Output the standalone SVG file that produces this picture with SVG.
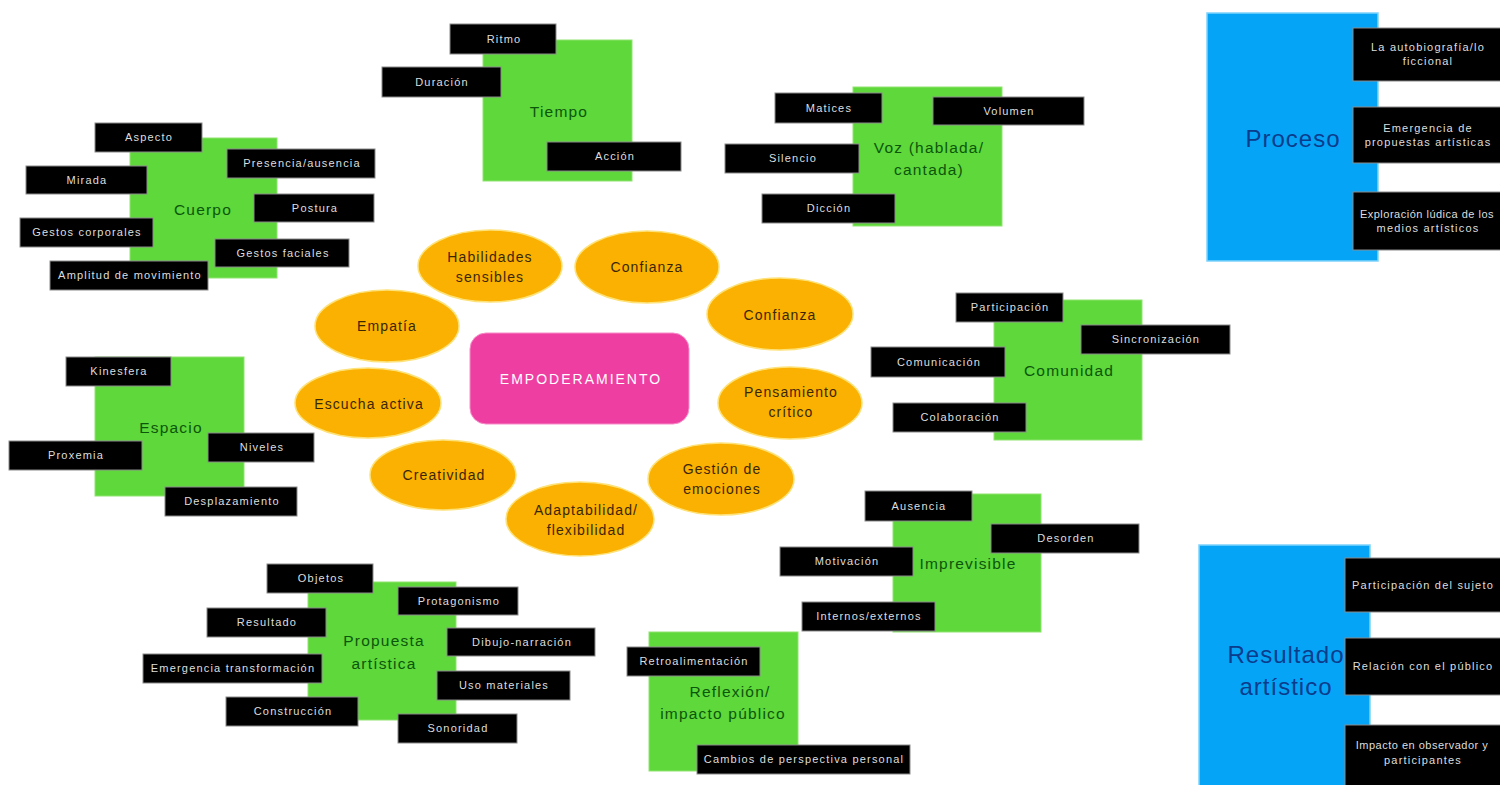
<svg xmlns="http://www.w3.org/2000/svg" width="1500" height="785" viewBox="0 0 1500 785">
<style>
.bg{fill:#ffffff}
.sq{fill:#5ed83a;stroke:#8fe46e;stroke-width:1}
.sqt{font-family:"Liberation Sans",Arial,sans-serif;font-size:15.5px;letter-spacing:1.2px;fill:#0c560c;text-anchor:middle}
.lb{fill:#000000;stroke:#8a8a8a;stroke-width:1}
.lbt{font-family:"Liberation Sans",Arial,sans-serif;font-size:11px;letter-spacing:1.2px;fill:#dedede;text-anchor:middle}
.tight{letter-spacing:0.5px}
.el{fill:#fbb102;stroke:#fde27a;stroke-width:1.5}
.elt{font-family:"Liberation Sans",Arial,sans-serif;font-size:14px;letter-spacing:1.1px;fill:#3a2600;text-anchor:middle}
.bl{fill:#06a4f7;stroke:#7fd3fb;stroke-width:1.5}
.blt{font-family:"Liberation Sans",Arial,sans-serif;font-size:24px;letter-spacing:1px;fill:#0a3c8c;text-anchor:middle}
.ct{fill:#ee3ea2;stroke:#f78cc8;stroke-width:1}
.ctt{font-family:"Liberation Sans",Arial,sans-serif;font-size:14px;letter-spacing:2px;fill:#ffffff;text-anchor:middle}
</style>
<rect class="bg" x="0" y="0" width="1500" height="785"/>
<g id="connectors"></g>

<g id="empoderamiento">
<rect class="ct" x="470" y="333" width="219" height="91" rx="16"/>
<text class="ctt" x="581" y="384">EMPODERAMIENTO</text>
</g>

<g id="habilidades"><ellipse class="el" cx="490" cy="266" rx="72" ry="36"/><text class="elt" x="490" y="262">Habilidades</text><text class="elt" x="490" y="282">sensibles</text></g>
<g id="confianza1"><ellipse class="el" cx="647" cy="267" rx="72" ry="36"/><text class="elt" x="647" y="272">Confianza</text></g>
<g id="confianza2"><ellipse class="el" cx="780" cy="314" rx="73" ry="36"/><text class="elt" x="780" y="320">Confianza</text></g>
<g id="empatia"><ellipse class="el" cx="387" cy="326" rx="72" ry="36"/><text class="elt" x="387" y="331">Empatía</text></g>
<g id="escucha"><ellipse class="el" cx="368" cy="403" rx="73" ry="35"/><text class="elt" x="369" y="409">Escucha activa</text></g>
<g id="creatividad"><ellipse class="el" cx="443" cy="475" rx="73" ry="35"/><text class="elt" x="444" y="480">Creatividad</text></g>
<g id="adaptabilidad"><ellipse class="el" cx="580" cy="519" rx="74" ry="37"/><text class="elt" x="586" y="515">Adaptabilidad/</text><text class="elt" x="586" y="535">flexibilidad</text></g>
<g id="pensamiento"><ellipse class="el" cx="790" cy="403" rx="72" ry="36"/><text class="elt" x="791" y="397">Pensamiento</text><text class="elt" x="791" y="417">crítico</text></g>
<g id="gestion"><ellipse class="el" cx="721" cy="479" rx="73" ry="36"/><text class="elt" x="722" y="474">Gestión de</text><text class="elt" x="722" y="494">emociones</text></g>

<g id="cuerpo">
<rect class="sq" x="130" y="138" width="147" height="140"/>
<text class="sqt" x="203" y="215">Cuerpo</text>
<rect class="lb" x="95" y="123" width="107" height="29"/><text class="lbt" x="149" y="141">Aspecto</text>
<rect class="lb" x="227" y="149" width="148" height="29"/><text class="lbt" x="302" y="167">Presencia/ausencia</text>
<rect class="lb" x="26" y="166" width="121" height="28"/><text class="lbt" x="87" y="184">Mirada</text>
<rect class="lb" x="254" y="194" width="120" height="28"/><text class="lbt" x="315" y="212">Postura</text>
<rect class="lb" x="20" y="218" width="133" height="29"/><text class="lbt" x="87" y="236">Gestos corporales</text>
<rect class="lb" x="215" y="239" width="134" height="28"/><text class="lbt" x="283" y="257">Gestos faciales</text>
<rect class="lb" x="50" y="261" width="158" height="29"/><text class="lbt" x="130" y="279">Amplitud de movimiento</text>
</g>

<g id="tiempo">
<rect class="sq" x="483" y="40" width="149" height="141"/>
<text class="sqt" x="559" y="117">Tiempo</text>
<rect class="lb" x="450" y="24" width="106" height="30"/><text class="lbt" x="504" y="43">Ritmo</text>
<rect class="lb" x="382" y="67" width="119" height="30"/><text class="lbt" x="442" y="86">Duración</text>
<rect class="lb" x="547" y="142" width="134" height="29"/><text class="lbt" x="615" y="160">Acción</text>
</g>

<g id="voz">
<rect class="sq" x="853" y="87" width="149" height="139"/>
<text class="sqt" x="929" y="153">Voz (hablada/</text>
<text class="sqt" x="929" y="175">cantada)</text>
<rect class="lb" x="775" y="93" width="107" height="30"/><text class="lbt" x="829" y="112">Matices</text>
<rect class="lb" x="933" y="97" width="151" height="28"/><text class="lbt" x="1009" y="115">Volumen</text>
<rect class="lb" x="725" y="144" width="134" height="29"/><text class="lbt" x="793" y="162">Silencio</text>
<rect class="lb" x="762" y="194" width="133" height="29"/><text class="lbt" x="829" y="212">Dicción</text>
</g>

<g id="proceso">
<rect class="bl" x="1207" y="13" width="171" height="248"/>
<text class="blt" x="1293" y="147">Proceso</text>
<rect class="lb" x="1353" y="28" width="150" height="53"/><text class="lbt" x="1428" y="51">La autobiografía/lo</text><text class="lbt" x="1428" y="65">ficcional</text>
<rect class="lb" x="1353" y="107" width="150" height="56"/><text class="lbt" x="1428" y="132">Emergencia de</text><text class="lbt" x="1428" y="146">propuestas artísticas</text>
<rect class="lb" x="1353" y="192" width="150" height="58"/><text class="lbt tight" x="1427" y="218">Exploración lúdica de los</text><text class="lbt" x="1428" y="232">medios artísticos</text>
</g>

<g id="resultado">
<rect class="bl" x="1199" y="545" width="171" height="245"/>
<text class="blt" x="1286" y="663">Resultado</text>
<text class="blt" x="1286" y="695">artístico</text>
<rect class="lb" x="1345" y="558" width="158" height="54"/><text class="lbt" x="1423" y="589">Participación del sujeto</text>
<rect class="lb" x="1345" y="638" width="158" height="57"/><text class="lbt" x="1423" y="670">Relación con el público</text>
<rect class="lb" x="1345" y="725" width="158" height="64"/><text class="lbt tight" x="1422" y="749">Impacto en observador y</text><text class="lbt" x="1423" y="764">participantes</text>
</g>

<g id="espacio">
<rect class="sq" x="95" y="357" width="149" height="139"/>
<text class="sqt" x="171" y="433">Espacio</text>
<rect class="lb" x="66" y="357" width="105" height="29"/><text class="lbt" x="119" y="375">Kinesfera</text>
<rect class="lb" x="9" y="441" width="133" height="29"/><text class="lbt" x="76" y="459">Proxemia</text>
<rect class="lb" x="208" y="433" width="106" height="29"/><text class="lbt" x="262" y="451">Niveles</text>
<rect class="lb" x="165" y="487" width="132" height="29"/><text class="lbt" x="232" y="505">Desplazamiento</text>
</g>

<g id="comunidad">
<rect class="sq" x="994" y="300" width="148" height="140"/>
<text class="sqt" x="1069" y="376">Comunidad</text>
<rect class="lb" x="956" y="293" width="107" height="29"/><text class="lbt" x="1010" y="311">Participación</text>
<rect class="lb" x="1081" y="325" width="149" height="29"/><text class="lbt" x="1156" y="343">Sincronización</text>
<rect class="lb" x="871" y="347" width="134" height="30"/><text class="lbt" x="939" y="366">Comunicación</text>
<rect class="lb" x="893" y="403" width="133" height="29"/><text class="lbt" x="960" y="421">Colaboración</text>
</g>

<g id="imprevisible">
<rect class="sq" x="893" y="494" width="148" height="138"/>
<text class="sqt" x="968" y="569">Imprevisible</text>
<rect class="lb" x="865" y="491" width="107" height="30"/><text class="lbt" x="919" y="510">Ausencia</text>
<rect class="lb" x="991" y="524" width="148" height="29"/><text class="lbt" x="1066" y="542">Desorden</text>
<rect class="lb" x="780" y="547" width="133" height="29"/><text class="lbt" x="847" y="565">Motivación</text>
<rect class="lb" x="802" y="602" width="133" height="29"/><text class="lbt" x="869" y="620">Internos/externos</text>
</g>

<g id="propuesta">
<rect class="sq" x="308" y="582" width="148" height="138"/>
<text class="sqt" x="384" y="646">Propuesta</text>
<text class="sqt" x="384" y="669">artística</text>
<rect class="lb" x="267" y="564" width="106" height="29"/><text class="lbt" x="321" y="582">Objetos</text>
<rect class="lb" x="398" y="587" width="120" height="28"/><text class="lbt" x="459" y="605">Protagonismo</text>
<rect class="lb" x="207" y="608" width="119" height="29"/><text class="lbt" x="267" y="626">Resultado</text>
<rect class="lb" x="447" y="628" width="148" height="28"/><text class="lbt" x="522" y="646">Dibujo-narración</text>
<rect class="lb" x="143" y="654" width="179" height="29"/><text class="lbt" x="233" y="672">Emergencia transformación</text>
<rect class="lb" x="437" y="671" width="133" height="29"/><text class="lbt" x="504" y="689">Uso materiales</text>
<rect class="lb" x="226" y="697" width="132" height="29"/><text class="lbt" x="293" y="715">Construcción</text>
<rect class="lb" x="398" y="714" width="119" height="29"/><text class="lbt" x="458" y="732">Sonoridad</text>
</g>

<g id="reflexion">
<rect class="sq" x="649" y="632" width="149" height="139"/>
<text class="sqt" x="730" y="697">Reflexión/</text>
<text class="sqt" x="723" y="719">impacto público</text>
<rect class="lb" x="627" y="647" width="133" height="29"/><text class="lbt" x="694" y="665">Retroalimentación</text>
<rect class="lb" x="697" y="745" width="213" height="29"/><text class="lbt" x="804" y="763">Cambios de perspectiva personal</text>
</g>
</svg>
